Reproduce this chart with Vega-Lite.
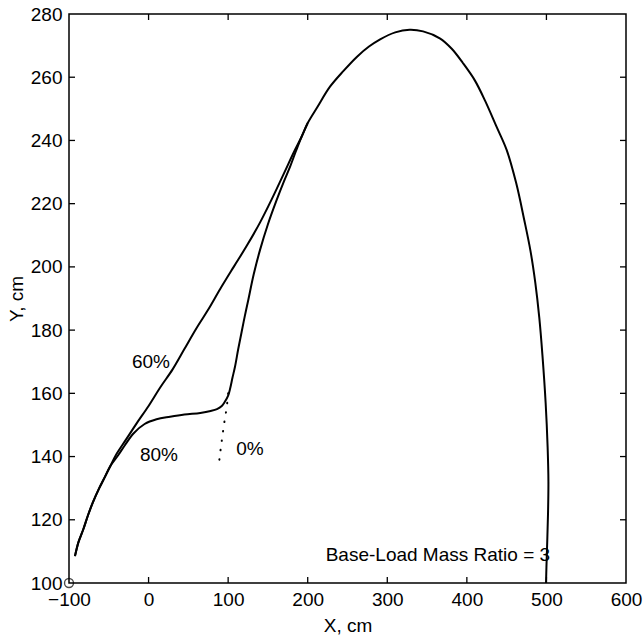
{
  "$schema": "https://vega.github.io/schema/vega-lite/v6.json",
  "width": 557,
  "height": 569,
  "autosize": {"type": "none"},
  "padding": {"left": 69, "top": 14, "right": 17, "bottom": 53},
  "background": "white",
  "config": {
    "font": "Liberation Sans",
    "view": {"stroke": "black", "strokeWidth": 1.5},
    "axis": {
      "grid": false,
      "domain": false,
      "ticks": false,
      "labelFont": "Liberation Sans",
      "labelFontSize": 19,
      "labelColor": "black",
      "labelPadding": 7,
      "labelFlush": false,
      "labelOverlap": false,
      "titleFont": "Liberation Sans",
      "titleFontSize": 19,
      "titleFontWeight": "normal",
      "titleColor": "black"
    }
  },
  "datasets": {
    "curves": [
      {"s": "60%", "i": 0, "x": -92.5, "y": 108.5},
      {"s": "60%", "i": 1, "x": -88, "y": 113},
      {"s": "60%", "i": 2, "x": -82, "y": 117},
      {"s": "60%", "i": 3, "x": -76, "y": 121.5},
      {"s": "60%", "i": 4, "x": -70, "y": 125.5},
      {"s": "60%", "i": 5, "x": -62, "y": 130},
      {"s": "60%", "i": 6, "x": -55, "y": 133.5},
      {"s": "60%", "i": 7, "x": -48, "y": 137},
      {"s": "60%", "i": 8, "x": -41, "y": 140.5},
      {"s": "60%", "i": 9, "x": -28, "y": 145.5},
      {"s": "60%", "i": 10, "x": -15, "y": 150.5},
      {"s": "60%", "i": 11, "x": 0, "y": 156},
      {"s": "60%", "i": 12, "x": 15, "y": 162},
      {"s": "60%", "i": 13, "x": 30, "y": 167.5},
      {"s": "60%", "i": 14, "x": 45, "y": 174},
      {"s": "60%", "i": 15, "x": 60, "y": 180.5},
      {"s": "60%", "i": 16, "x": 75, "y": 186.5},
      {"s": "60%", "i": 17, "x": 90, "y": 193},
      {"s": "60%", "i": 18, "x": 107, "y": 200},
      {"s": "60%", "i": 19, "x": 123, "y": 206.5},
      {"s": "60%", "i": 20, "x": 140, "y": 214},
      {"s": "60%", "i": 21, "x": 155, "y": 221.5},
      {"s": "60%", "i": 22, "x": 170, "y": 229.5},
      {"s": "60%", "i": 23, "x": 183, "y": 236.5},
      {"s": "60%", "i": 24, "x": 192, "y": 241},
      {"s": "60%", "i": 25, "x": 200, "y": 245.5},
      {"s": "60%", "i": 26, "x": 212, "y": 250.5},
      {"s": "60%", "i": 27, "x": 228, "y": 257},
      {"s": "60%", "i": 28, "x": 245, "y": 262},
      {"s": "60%", "i": 29, "x": 262, "y": 266.5},
      {"s": "60%", "i": 30, "x": 277, "y": 269.7},
      {"s": "60%", "i": 31, "x": 291, "y": 272},
      {"s": "60%", "i": 32, "x": 310, "y": 274.2},
      {"s": "60%", "i": 33, "x": 328, "y": 275},
      {"s": "60%", "i": 34, "x": 345, "y": 274.5},
      {"s": "60%", "i": 35, "x": 366, "y": 272.3},
      {"s": "60%", "i": 36, "x": 381, "y": 269},
      {"s": "60%", "i": 37, "x": 395, "y": 264.5},
      {"s": "60%", "i": 38, "x": 410, "y": 259},
      {"s": "60%", "i": 39, "x": 423, "y": 252.5},
      {"s": "60%", "i": 40, "x": 437, "y": 244.5},
      {"s": "60%", "i": 41, "x": 450, "y": 237},
      {"s": "60%", "i": 42, "x": 462, "y": 226.5},
      {"s": "60%", "i": 43, "x": 472, "y": 215},
      {"s": "60%", "i": 44, "x": 480, "y": 205},
      {"s": "60%", "i": 45, "x": 486, "y": 195},
      {"s": "60%", "i": 46, "x": 491, "y": 184},
      {"s": "60%", "i": 47, "x": 495, "y": 172},
      {"s": "60%", "i": 48, "x": 499, "y": 157},
      {"s": "60%", "i": 49, "x": 501.5, "y": 143},
      {"s": "60%", "i": 50, "x": 502.5, "y": 132},
      {"s": "60%", "i": 51, "x": 502, "y": 122},
      {"s": "60%", "i": 52, "x": 501, "y": 113},
      {"s": "60%", "i": 53, "x": 500, "y": 105},
      {"s": "60%", "i": 54, "x": 499.5, "y": 100},
      {"s": "80%", "i": 0, "x": -92.5, "y": 108.5},
      {"s": "80%", "i": 1, "x": -88, "y": 113},
      {"s": "80%", "i": 2, "x": -82, "y": 117},
      {"s": "80%", "i": 3, "x": -76, "y": 121.5},
      {"s": "80%", "i": 4, "x": -70, "y": 125.5},
      {"s": "80%", "i": 5, "x": -62, "y": 130},
      {"s": "80%", "i": 6, "x": -55, "y": 133.5},
      {"s": "80%", "i": 7, "x": -48, "y": 137},
      {"s": "80%", "i": 8, "x": -38, "y": 140.5},
      {"s": "80%", "i": 9, "x": -30, "y": 143.5},
      {"s": "80%", "i": 10, "x": -19, "y": 147.3},
      {"s": "80%", "i": 11, "x": -5, "y": 150.3},
      {"s": "80%", "i": 12, "x": 10, "y": 151.8},
      {"s": "80%", "i": 13, "x": 27, "y": 152.6},
      {"s": "80%", "i": 14, "x": 45, "y": 153.3},
      {"s": "80%", "i": 15, "x": 65, "y": 153.8},
      {"s": "80%", "i": 16, "x": 78, "y": 154.4},
      {"s": "80%", "i": 17, "x": 86, "y": 155},
      {"s": "80%", "i": 18, "x": 92, "y": 156},
      {"s": "80%", "i": 19, "x": 96, "y": 157.4},
      {"s": "80%", "i": 20, "x": 100, "y": 159.3},
      {"s": "80%", "i": 21, "x": 102.5, "y": 161.5},
      {"s": "80%", "i": 22, "x": 105.5, "y": 165},
      {"s": "80%", "i": 23, "x": 108.6, "y": 168.4},
      {"s": "80%", "i": 24, "x": 112.8, "y": 174.2},
      {"s": "80%", "i": 25, "x": 117, "y": 179.5},
      {"s": "80%", "i": 26, "x": 121, "y": 184.5},
      {"s": "80%", "i": 27, "x": 125.3, "y": 189.5},
      {"s": "80%", "i": 28, "x": 132, "y": 197.5},
      {"s": "80%", "i": 29, "x": 140, "y": 205.3},
      {"s": "80%", "i": 30, "x": 150, "y": 213.5},
      {"s": "80%", "i": 31, "x": 161, "y": 221.2},
      {"s": "80%", "i": 32, "x": 170, "y": 227},
      {"s": "80%", "i": 33, "x": 178, "y": 231.8},
      {"s": "80%", "i": 34, "x": 185, "y": 236.5},
      {"s": "80%", "i": 35, "x": 192, "y": 241},
      {"s": "80%", "i": 36, "x": 200, "y": 245.5}
    ],
    "zero": [
      {"s": "0%", "i": 0, "x": 100, "y": 160},
      {"s": "0%", "i": 1, "x": 98.2, "y": 155.3},
      {"s": "0%", "i": 2, "x": 96.1, "y": 152.4},
      {"s": "0%", "i": 3, "x": 93.2, "y": 147.3},
      {"s": "0%", "i": 4, "x": 90.6, "y": 142.4},
      {"s": "0%", "i": 5, "x": 88.5, "y": 138}
    ],
    "labels": [
      {"label": "60%", "x": 3, "y": 170},
      {"label": "80%", "x": 13, "y": 140.5},
      {"label": "0%", "x": 127.5, "y": 142.4},
      {"label": "Base-Load Mass Ratio = 3", "x": 363.6, "y": 108.9}
    ],
    "origin": [
      {"x": -100, "y": 100}
    ],
    "xticks": [
      {"v": 0}, {"v": 100}, {"v": 200}, {"v": 300}, {"v": 400}, {"v": 500}
    ],
    "yticks": [
      {"v": 120}, {"v": 140}, {"v": 160}, {"v": 180}, {"v": 200}, {"v": 220}, {"v": 240}, {"v": 260}
    ]
  },
  "layer": [
    {
      "data": {"name": "curves"},
      "mark": {"type": "line", "color": "black", "strokeWidth": 2, "interpolate": "catmull-rom", "clip": true},
      "encoding": {
        "x": {
          "field": "x", "type": "quantitative",
          "scale": {"domain": [-100, 600], "nice": false, "zero": false},
          "axis": {"orient": "bottom", "values": [-100, 0, 100, 200, 300, 400, 500, 600], "title": "X, cm", "titleBaseline": "alphabetic", "titleY": 48}
        },
        "y": {
          "field": "y", "type": "quantitative",
          "scale": {"domain": [100, 280], "nice": false, "zero": false},
          "axis": {"orient": "left", "values": [100, 120, 140, 160, 180, 200, 220, 240, 260, 280], "title": "Y, cm", "titleBaseline": "alphabetic", "titleX": -47}
        },
        "detail": {"field": "s"},
        "order": {"field": "i", "type": "quantitative"}
      }
    },
    {
      "data": {"name": "zero"},
      "mark": {"type": "line", "color": "black", "strokeWidth": 2, "strokeCap": "round", "strokeDash": [0.5, 9]},
      "encoding": {
        "x": {"field": "x", "type": "quantitative"},
        "y": {"field": "y", "type": "quantitative"},
        "order": {"field": "i", "type": "quantitative"}
      }
    },
    {
      "data": {"name": "xticks"},
      "mark": {"type": "point", "shape": "M0,0V-1", "filled": false, "stroke": "black", "strokeWidth": 1.3, "size": 144, "opacity": 1, "clip": false},
      "encoding": {
        "x": {"field": "v", "type": "quantitative"},
        "y": {"datum": 100, "type": "quantitative"}
      }
    },
    {
      "data": {"name": "xticks"},
      "mark": {"type": "point", "shape": "M0,0V1", "filled": false, "stroke": "black", "strokeWidth": 1.3, "size": 144, "opacity": 1, "clip": false},
      "encoding": {
        "x": {"field": "v", "type": "quantitative"},
        "y": {"datum": 280, "type": "quantitative"}
      }
    },
    {
      "data": {"name": "yticks"},
      "mark": {"type": "point", "shape": "M0,0H1", "filled": false, "stroke": "black", "strokeWidth": 1.3, "size": 144, "opacity": 1, "clip": false},
      "encoding": {
        "y": {"field": "v", "type": "quantitative"},
        "x": {"datum": -100, "type": "quantitative"}
      }
    },
    {
      "data": {"name": "yticks"},
      "mark": {"type": "point", "shape": "M0,0H-1", "filled": false, "stroke": "black", "strokeWidth": 1.3, "size": 144, "opacity": 1, "clip": false},
      "encoding": {
        "y": {"field": "v", "type": "quantitative"},
        "x": {"datum": 600, "type": "quantitative"}
      }
    },
    {
      "data": {"name": "labels"},
      "mark": {"type": "text", "font": "Liberation Sans", "fontSize": 19, "color": "black", "align": "center", "baseline": "middle"},
      "encoding": {
        "x": {"field": "x", "type": "quantitative"},
        "y": {"field": "y", "type": "quantitative"},
        "text": {"field": "label"}
      }
    },
    {
      "data": {"name": "origin"},
      "mark": {"type": "point", "filled": false, "stroke": "black", "strokeWidth": 1.4, "size": 80, "clip": false},
      "encoding": {
        "x": {"field": "x", "type": "quantitative"},
        "y": {"field": "y", "type": "quantitative"}
      }
    }
  ]
}
